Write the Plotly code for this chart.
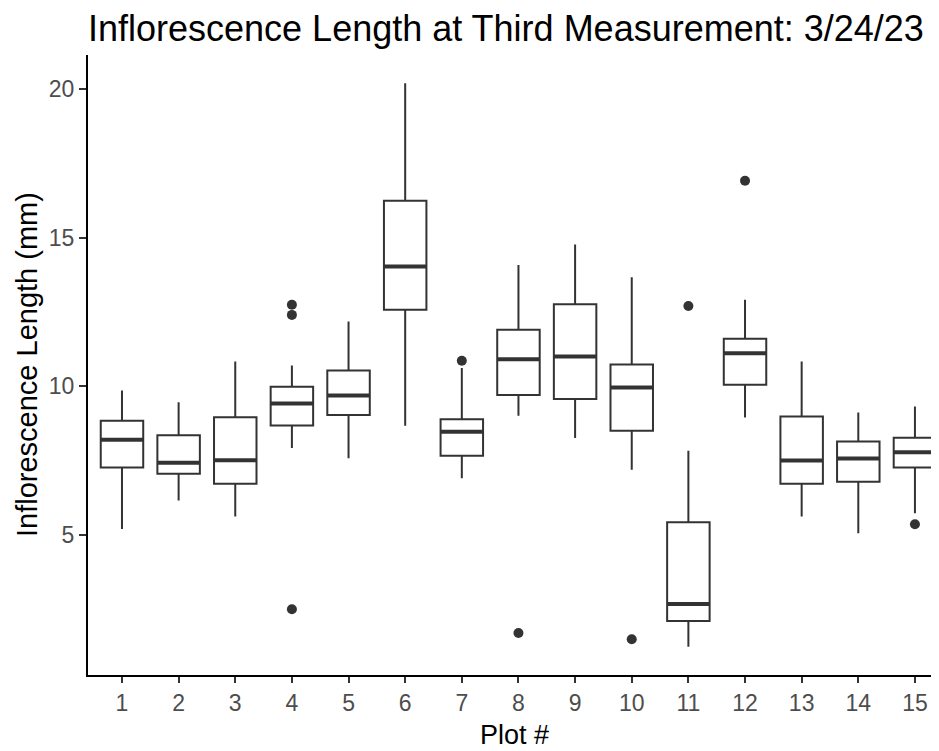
import plotly.graph_objects as go

plots = list(range(1, 16))
tick_labels = [str(p) for p in plots]

lower_whisker = [5.20, 6.16, 5.62, 7.92, 7.58, 8.67, 6.91, 9.01, 8.26, 7.19, 1.24, 8.95, 5.62, 5.06, 5.73]
q1_vals       = [7.27, 7.06, 6.72, 8.68, 9.03, 12.57, 7.66, 9.71, 9.57, 8.50, 2.11, 10.05, 6.72, 6.79, 7.27]
median_vals   = [8.20, 7.43, 7.51, 9.42, 9.69, 14.03, 8.47, 10.91, 11.00, 9.96, 2.68, 11.11, 7.50, 7.57, 7.78]
q3_vals       = [8.84, 8.35, 8.96, 9.98, 10.53, 16.24, 8.89, 11.90, 12.76, 10.73, 5.43, 11.60, 8.98, 8.14, 8.27]
upper_whisker = [9.86, 9.46, 10.83, 10.70, 12.18, 20.19, 10.61, 14.08, 14.77, 13.67, 7.83, 12.91, 10.83, 9.12, 9.32]

outlier_plot  = [4, 4, 4, 7, 8, 10, 11, 12, 15]
outlier_value = [12.74, 12.40, 2.50, 10.86, 1.70, 1.49, 12.70, 16.91, 5.36]

BOX_W = 0.75
DARK = "#333333"
FONT = "Liberation Sans, Arial, sans-serif"

# page has an 8px body margin
FIG_W, FIG_H = 939, 743
M_L, M_T, M_B = 80, 47, 76
PX_PER_UNIT = 56.64
X_MAX = 0.4 + (FIG_W - M_L) / PX_PER_UNIT

fig = go.Figure()
fig.add_trace(go.Box(
    x=plots, q1=q1_vals, median=median_vals, q3=q3_vals,
    lowerfence=lower_whisker, upperfence=upper_whisker,
    width=BOX_W, whiskerwidth=0, boxpoints=False,
    fillcolor="white", line=dict(color=DARK, width=2),
    showlegend=False, hoverinfo="skip",
))

# thicker median line (ggplot fatten)
mx, my = [], []
for p, m in zip(plots, median_vals):
    mx += [p - BOX_W / 2, p + BOX_W / 2, None]
    my += [m, m, None]
fig.add_trace(go.Scatter(x=mx, y=my, mode="lines",
                         line=dict(color=DARK, width=4),
                         showlegend=False, hoverinfo="skip"))

fig.add_trace(go.Scatter(x=outlier_plot, y=outlier_value, mode="markers",
                         marker=dict(color=DARK, size=10),
                         showlegend=False, hoverinfo="skip"))

fig.update_layout(
    width=FIG_W, height=FIG_H,
    margin=dict(l=M_L, r=0, t=M_T, b=M_B),
    paper_bgcolor="white", plot_bgcolor="white",
    font=dict(family=FONT),
    title=dict(text="Inflorescence Length at Third Measurement: 3/24/23",
               font=dict(size=36, color="black", family=FONT),
               x=M_L / FIG_W, xref="container", xanchor="left",
               y=1 - 20 / FIG_H, yref="container", yanchor="middle"),
    xaxis=dict(range=[0.4, X_MAX], tickmode="array", tickvals=plots, ticktext=tick_labels,
               showgrid=False, zeroline=False, showline=True, linecolor="black", linewidth=2,
               ticks="outside", ticklen=6, tickwidth=2, tickcolor=DARK,
               tickfont=dict(size=23, color="#4D4D4D")),
    yaxis=dict(range=[0.29, 21.14], tickmode="array", tickvals=[5, 10, 15, 20],
               showgrid=False, zeroline=False, showline=True, linecolor="black", linewidth=2,
               ticks="outside", ticklen=7, tickwidth=2, tickcolor=DARK,
               tickfont=dict(size=23, color="#4D4D4D")),
    annotations=[
        dict(text="Plot #", xref="paper", yref="paper", x=(514 - 8 - M_L) / (FIG_W - M_L), y=0,
             yshift=-60, xanchor="center", yanchor="middle", showarrow=False,
             font=dict(size=27, color="black", family=FONT)),
        dict(text="Inflorescence Length (mm)", xref="paper", yref="paper", x=0, y=0.5,
             xshift=-61, xanchor="center", yanchor="middle", textangle=-90, showarrow=False,
             font=dict(size=29, color="black", family=FONT)),
    ],
)

fig.write_html("out.html")
